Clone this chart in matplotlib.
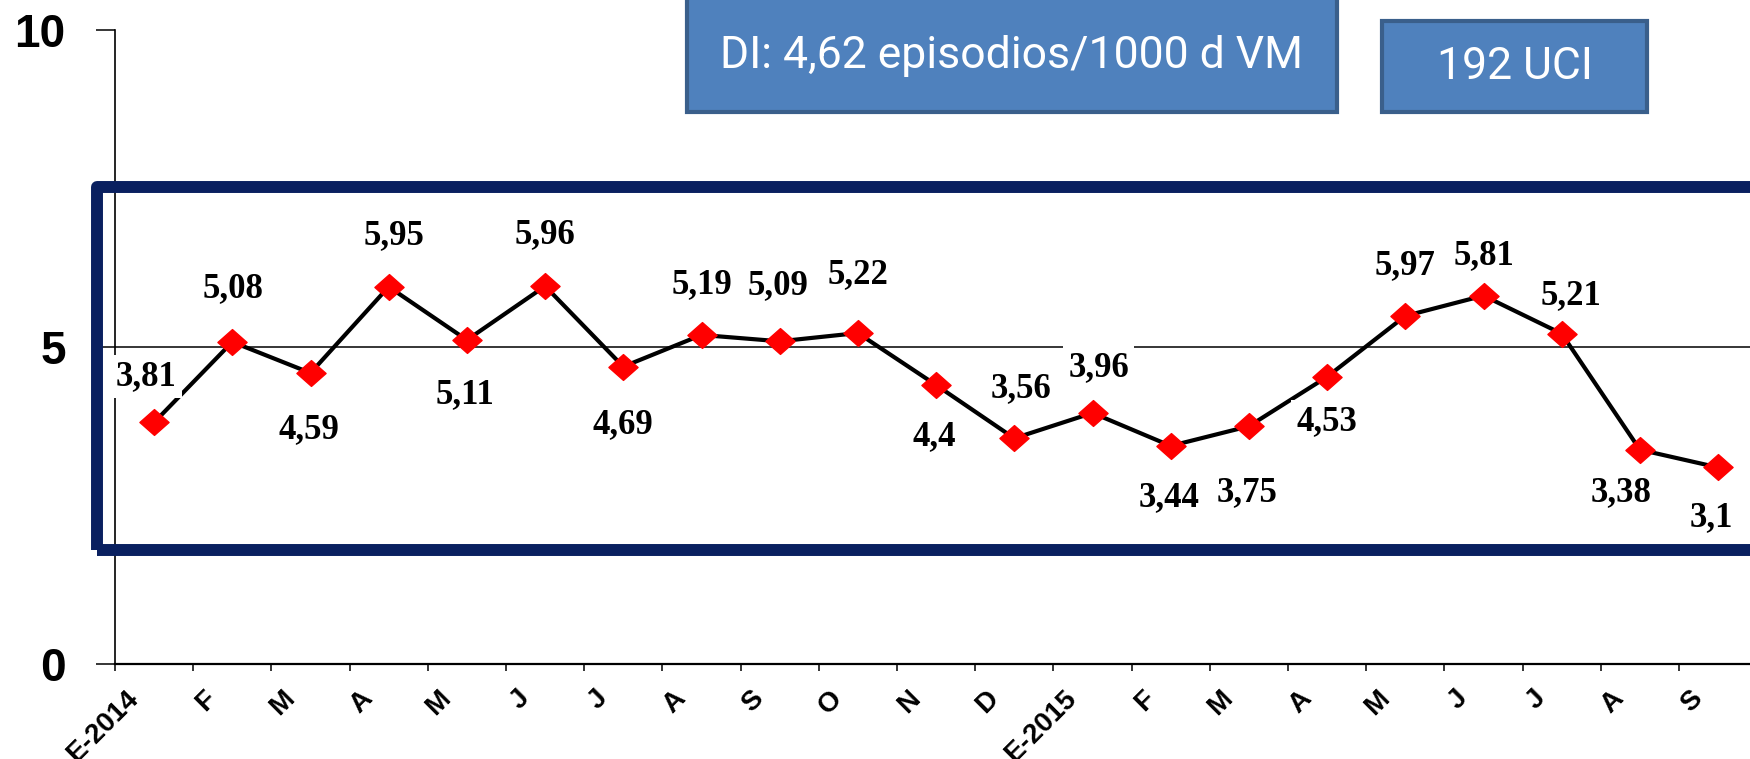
import numpy as np
import matplotlib.pyplot as plt
import matplotlib.transforms as mtransforms
from matplotlib.patches import Rectangle
from matplotlib.path import Path

# monthly data (Jan 2014 - Sep 2015)
months = ["E-2014", "F", "M", "A", "M", "J", "J", "A", "S", "O", "N", "D",
          "E-2015", "F", "M", "A", "M", "J", "J", "A", "S"]
values = [3.81, 5.08, 4.59, 5.95, 5.11, 5.96, 4.69, 5.19, 5.09, 5.22, 4.40, 3.56,
          3.96, 3.44, 3.75, 4.53, 5.49, 5.81, 5.21, 3.38, 3.10]
value_labels = ["3,81", "5,08", "4,59", "5,95", "5,11", "5,96", "4,69", "5,19", "5,09",
                "5,22", "4,4", "3,56", "3,96", "3,44", "3,75", "4,53", "5,97", "5,81",
                "5,21", "3,38", "3,1"]
ytick_vals = [0, 5, 10]
box_texts = ["DI: 4,62 episodios/1000 d VM", "192 UCI"]

# label offsets from each point, in pixels (up is positive)
label_dx = [-8, 1, -2, 5, -2, 0, 0, 0, -2, 0, -2, 7, 6, -2, -2, 0, 0, 0, 9, -19, -7]
label_dy = [46, 53, -57, 51, -55, 52, -58, 50, 56, 58, -52, 50, 45, -52, -66, -45, 50, 40, 38, -43, -50]

W, H = 1750, 759
fig = plt.figure(figsize=(W / 100, H / 100), dpi=100)
ax = fig.add_axes([115 / W, 1 - 664 / H, 21 * 78.2 / W, (664 - 30) / H])

x = np.arange(len(values))
diamond = Path([(0, 1), (1.13, 0), (0, -1), (-1.13, 0), (0, 1)],
               [Path.MOVETO, Path.LINETO, Path.LINETO, Path.LINETO, Path.CLOSEPOLY])
ax.axhline(5, color="black", lw=1.1, zorder=1)
ax.plot(x, values, color="black", lw=3, zorder=3,
        marker=diamond, markersize=21, markerfacecolor="#ff0000", markeredgecolor="#ff0000")

for xi, v, lab, dx, dy in zip(x, values, value_labels, label_dx, label_dy):
    ax.annotate(lab, (xi, v), xytext=(dx, dy), textcoords="offset pixels",
                ha="center", va="center", fontsize=25, fontweight="bold",
                family="Liberation Serif", zorder=6, annotation_clip=False,
                bbox=dict(boxstyle="square,pad=0.15", fc="white", ec="none"))

ax.set_xlim(-0.5, len(values) - 0.5)
ax.set_ylim(0, 10)

ax.set_yticks(ytick_vals)
ax.set_yticklabels([str(t) for t in ytick_vals], fontsize=33, fontweight="bold",
                   family="Liberation Sans")
ax.tick_params(axis="y", length=13.5, width=1.1, pad=22)

ax.set_xticks(np.arange(-0.5, len(values), 1))
ax.set_xticklabels([])
ax.set_xticks(x, months, minor=True)
ax.tick_params(axis="x", which="major", length=5, width=1.1)
ax.tick_params(axis="x", which="minor", length=0, pad=22)
shift = mtransforms.ScaledTranslation(-20 / 100, 0, fig.dpi_scale_trans)
for t in ax.get_xticklabels(minor=True):
    t.set_rotation(45)
    t.set_ha("right")
    t.set_va("center")
    t.set_rotation_mode("anchor")
    t.set_fontsize(20)
    t.set_fontweight("bold")
    t.set_family("Liberation Sans")
    t.set_transform(t.get_transform() + shift)

for s in ["top", "right"]:
    ax.spines[s].set_visible(False)
ax.spines["left"].set_linewidth(1.2)
ax.spines["bottom"].set_linewidth(1.6)

# navy frame around the data
fig.add_artist(Rectangle((97 / W, 1 - 549.5 / H), (1900 - 97) / W, (549.5 - 187.5) / H,
                         transform=fig.transFigure, fill=False, ec="#0a2060", lw=8.6,
                         joinstyle="round", zorder=10))

# blue info boxes at the top
boxes = [(687, -8, 1337, 112), (1382, 21, 1647, 112)]
text_y = [56, 67]
for (x0, y0, x1, y1), txt, ty in zip(boxes, box_texts, text_y):
    fig.add_artist(Rectangle((x0 / W, 1 - y1 / H), (x1 - x0) / W, (y1 - y0) / H,
                             transform=fig.transFigure, fc="#4f81bd", ec="#3a5f8b",
                             lw=3, zorder=10))
    fig.text((x0 + x1) / 2 / W, 1 - ty / H, txt, ha="center", va="center",
             color="white", fontsize=32, family="Roboto", zorder=11)

fig.savefig("out.png", dpi=100)
